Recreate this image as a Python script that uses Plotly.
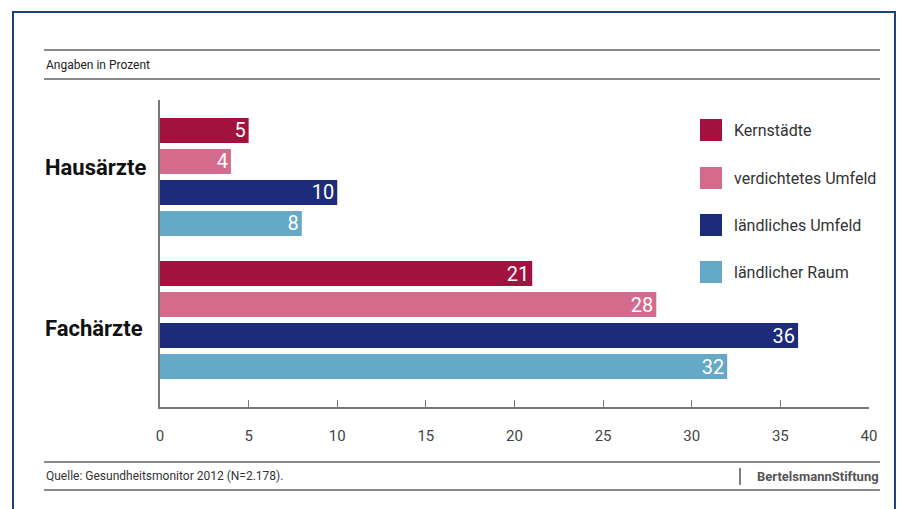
import plotly.graph_objects as go

categories = ["Hausärzte", "Fachärzte"]
series_names = ["Kernstädte", "verdichtetes Umfeld", "ländliches Umfeld", "ländlicher Raum"]
kernstaedte = [5, 21]
verdichtet = [4, 28]
laendl_umfeld = [10, 36]
laendl_raum = [8, 32]
series_values = [kernstaedte, verdichtet, laendl_umfeld, laendl_raum]
colors = ["#A3123F", "#D46B8C", "#1C2B7A", "#65A9C7"]
x_ticks = [0, 5, 10, 15, 20, 25, 30, 35, 40]

W, H = 903, 509
L, R, T, B = 160, 34, 100, 102
PW, PH = W - L - R, H - T - B
FONT = "Roboto"


def px(x):
    return (x - L) / PW


def py(y):
    return (H - B - y) / PH


fig = go.Figure()
for name, vals, col in zip(series_names, series_values, colors):
    fig.add_trace(go.Bar(
        y=categories, x=vals, orientation="h", name=name,
        marker=dict(color=col, line=dict(width=0)),
        text=[str(v) for v in vals], textposition="inside", textangle=0,
        insidetextanchor="end", constraintext="none",
        textfont=dict(color="white", size=20, family=FONT),
        showlegend=False,
    ))

shapes = []
annotations = []
# outer frame
shapes.append(dict(type="path", xref="paper", yref="paper",
                   path=f"M {px(13)} {py(530)} L {px(13)} {py(12)} L {px(895)} {py(12)} L {px(895)} {py(530)}",
                   line=dict(color="#1F3F7F", width=2)))
# horizontal rules
for yy in [50, 79, 462, 490]:
    shapes.append(dict(type="line", xref="paper", yref="paper",
                       x0=px(44), x1=px(880), y0=py(yy), y1=py(yy),
                       line=dict(color="#8A8A8A", width=2)))
# category labels
for cat, shift in zip(categories, [9, -8]):
    annotations.append(dict(text=f"<b>{cat}</b>", xref="paper", yref="y",
                            x=px(43), y=cat, xanchor="left", yanchor="middle", yshift=shift,
                            showarrow=False, font=dict(size=22, color="#111", family=FONT)))
# legend
leg_y = [130, 178, 225, 272]
for name, col, ly in zip(series_names, colors, leg_y):
    shapes.append(dict(type="rect", xref="paper", yref="paper",
                       x0=px(700), x1=px(722), y0=py(ly - 11), y1=py(ly + 11),
                       fillcolor=col, line=dict(width=0)))
    annotations.append(dict(text=name, xref="paper", yref="paper",
                            x=px(732), y=py(ly), xanchor="left", yanchor="middle",
                            showarrow=False, font=dict(size=16, color="#333", family=FONT)))

annotations.append(dict(text="Angaben in Prozent", xref="paper", yref="paper",
                        x=px(44), y=py(65), xanchor="left", yanchor="middle",
                        showarrow=False, font=dict(size=12, color="#222", family=FONT)))
annotations.append(dict(text="Quelle: Gesundheitsmonitor 2012 (N=2.178).", xref="paper", yref="paper",
                        x=px(44), y=py(476), xanchor="left", yanchor="middle",
                        showarrow=False, font=dict(size=12, color="#333", family=FONT)))
annotations.append(dict(text="<b>BertelsmannStiftung</b>", xref="paper", yref="paper",
                        x=px(881), y=py(476), xanchor="right", yanchor="middle",
                        showarrow=False, font=dict(size=13, color="#555", family=FONT)))
shapes.append(dict(type="line", xref="paper", yref="paper",
                   x0=px(740), x1=px(740), y0=py(468), y1=py(485),
                   line=dict(color="#555", width=1.5)))

fig.update_layout(
    width=W, height=H,
    margin=dict(l=L, r=R, t=T, b=B),
    paper_bgcolor="white", plot_bgcolor="white",
    barmode="group", bargap=0.133, bargroupgap=0.19,
    shapes=shapes, annotations=annotations,
    showlegend=False,
    xaxis=dict(range=[0, 40], tickvals=x_ticks, ticks="inside", ticklen=7,
               tickcolor="#777", showline=True, linecolor="#777", linewidth=1.5,
               showgrid=False, zeroline=False, ticklabelstandoff=14,
               tickfont=dict(size=15, color="#444", family=FONT)),
    yaxis=dict(range=[1.608, -0.538], showline=True, linecolor="#777", linewidth=1.5,
               ticks="", showgrid=False, zeroline=False, showticklabels=False),
    font=dict(family=FONT),
)

fig.write_html("out.html")
